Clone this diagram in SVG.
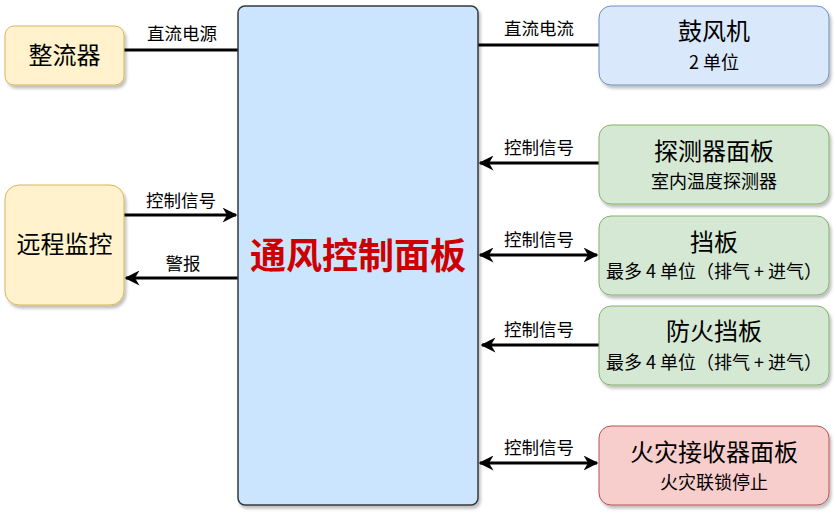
<svg xmlns="http://www.w3.org/2000/svg" width="836" height="513" viewBox="0 0 836 513">
<defs>
<style>
text{font-family:"Noto Sans CJK SC","Noto Sans",sans-serif;fill:#000;text-anchor:middle}
.t{font-size:24px}
.s{font-size:18px}
.l{font-size:17.5px}
.e{stroke:#000;stroke-width:3;fill:none}
.y{fill:#fff2cc;stroke:#d6b656}
.b{fill:#dae8fc;stroke:#6c8ebf}
.g{fill:#d5e8d4;stroke:#82b366}
.r{fill:#f8cecc;stroke:#b85450}
</style>
<filter id="sh" x="-10%" y="-10%" width="130%" height="130%">
<feDropShadow dx="2" dy="3" stdDeviation="1.5" flood-color="#000" flood-opacity="0.25"/>
</filter>
<marker id="a" viewBox="0 0 10 10" refX="9" refY="5" markerWidth="5" markerHeight="5" orient="auto-start-reverse" markerUnits="strokeWidth">
<path d="M0,0 L10,5 L0,10 L3,5 Z" fill="#000"/>
</marker>
</defs>
<g id="edges">
<line class="e" x1="124" y1="50" x2="238" y2="50"/>
<text class="l" x="182" y="40">直流电源</text>
<line class="e" x1="478" y1="45" x2="599" y2="45"/>
<text class="l" x="539" y="35">直流电流</text>
<line class="e" x1="124" y1="215" x2="236" y2="215" marker-end="url(#a)"/>
<text class="l" x="181" y="207">控制信号</text>
<line class="e" x1="238" y1="278" x2="126" y2="278" marker-end="url(#a)"/>
<text class="l" x="183" y="270">警报</text>
<line class="e" x1="599" y1="163" x2="480" y2="163" marker-end="url(#a)"/>
<text class="l" x="539" y="154">控制信号</text>
<line class="e" x1="480" y1="255" x2="597" y2="255" marker-start="url(#a)" marker-end="url(#a)"/>
<text class="l" x="539" y="246">控制信号</text>
<line class="e" x1="599" y1="345" x2="482" y2="345" marker-end="url(#a)"/>
<text class="l" x="539" y="336">控制信号</text>
<line class="e" x1="480" y1="463" x2="597" y2="463" marker-start="url(#a)" marker-end="url(#a)"/>
<text class="l" x="539" y="454">控制信号</text>
</g>
<g id="panel">
<rect x="238" y="6" width="240" height="499" rx="7" fill="#cce5ff" stroke="#36393d" stroke-width="1.5" filter="url(#sh)"/>
<text x="358" y="269" style="font-size:36px;font-weight:bold;fill:#cc0000">通风控制面板</text>
</g>
<g id="rectifier">
<rect class="y" x="5" y="26" width="119" height="59" rx="9" filter="url(#sh)"/>
<text class="t" x="64.5" y="64">整流器</text>
</g>
<g id="remote">
<rect class="y" x="5" y="185" width="119" height="120" rx="14" filter="url(#sh)"/>
<text class="t" x="64.5" y="253">远程监控</text>
</g>
<g id="blower">
<rect class="b" x="599" y="6" width="230" height="79" rx="12" filter="url(#sh)"/>
<text class="t" x="714" y="40">鼓风机</text>
<text class="s" x="714" y="69">2 单位</text>
</g>
<g id="detector">
<rect class="g" x="599" y="125" width="230" height="79" rx="12" filter="url(#sh)"/>
<text class="t" x="714" y="160">探测器面板</text>
<text class="s" x="714" y="188">室内温度探测器</text>
</g>
<g id="damper">
<rect class="g" x="599" y="216" width="230" height="79" rx="12" filter="url(#sh)"/>
<text class="t" x="714" y="251">挡板</text>
<text class="s" x="714" y="278">最多 4 单位（排气 + 进气）</text>
</g>
<g id="firedamper">
<rect class="g" x="599" y="306" width="230" height="79" rx="12" filter="url(#sh)"/>
<text class="t" x="714" y="340">防火挡板</text>
<text class="s" x="714" y="369">最多 4 单位（排气 + 进气）</text>
</g>
<g id="firepanel">
<rect class="r" x="599" y="426" width="230" height="79" rx="12" filter="url(#sh)"/>
<text class="t" x="714" y="461">火灾接收器面板</text>
<text class="s" x="714" y="489">火灾联锁停止</text>
</g>
</svg>
